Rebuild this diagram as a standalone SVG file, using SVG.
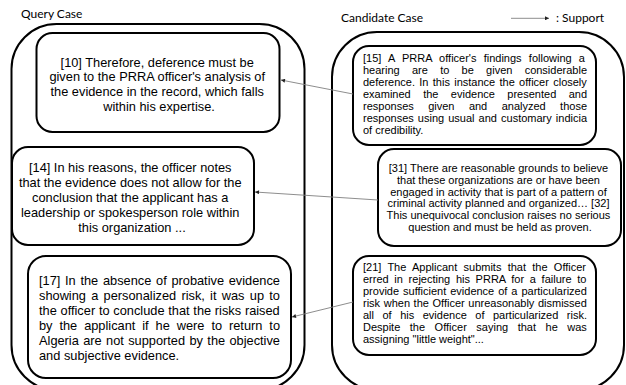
<svg xmlns="http://www.w3.org/2000/svg" width="626" height="385" viewBox="0 0 626 385">
<style>
.box{fill:#fff;stroke:#000;stroke-width:2}
.outer{fill:none;stroke:#000;stroke-width:2}
.q{font-family:"Liberation Sans",Arial,sans-serif;font-size:12.8px;fill:#000}
.c{font-family:"Liberation Sans",Arial,sans-serif;font-size:11px;fill:#000}
.lbl{font-family:Lato,"Liberation Sans",sans-serif;font-size:12px;fill:#000}
.mid{text-anchor:middle}
.conn{stroke:#808080;stroke-width:0.9;fill:none}
</style>
<defs>
<marker id="ah" viewBox="0 0 10 10" refX="10" refY="5" markerWidth="5" markerHeight="4" markerUnits="userSpaceOnUse" orient="auto">
<path d="M0,0 L10,5 L0,10 z" fill="#222"/>
</marker>
</defs>
<rect width="626" height="385" fill="#fff"/>
<g id="labels">
<text class="lbl" x="21" y="18">Query Case</text>
<text class="lbl" x="341" y="22">Candidate Case</text>
<text class="lbl" x="556" y="22">: Support</text>
</g>
<g id="query-case">
<rect class="outer" x="11.5" y="24" width="293" height="366" rx="45"/>
</g>
<g id="candidate-case">
<rect class="outer" x="332" y="32" width="292" height="358" rx="45"/>
</g>
<g id="q10">
<rect class="box" x="36.5" y="33" width="243" height="99" rx="16"/>
<text class="q mid" x="159">
<tspan x="159" y="66.7">[10] Therefore, deference must be</tspan>
<tspan x="159" y="81.3">given to the PRRA officer's analysis of</tspan>
<tspan x="159" y="95.9">the evidence in the record, which falls</tspan>
<tspan x="159" y="110.5">within his expertise.</tspan>
</text>
</g>
<g id="q14">
<rect class="box" x="12" y="147" width="242" height="98" rx="16"/>
<text class="q mid" x="132">
<tspan x="132" y="171.5">[14] In his reasons, the officer notes</tspan>
<tspan x="132" y="186.5">that the evidence does not allow for the</tspan>
<tspan x="132" y="201.5">conclusion that the applicant has a</tspan>
<tspan x="132" y="216.5">leadership or spokesperson role within</tspan>
<tspan x="132" y="231.5">this organization ...</tspan>
</text>
</g>
<g id="q17">
<rect class="box" x="28" y="256" width="263" height="122" rx="18"/>
<text class="q" x="39">
<tspan x="39" y="284.5" word-spacing="1.15">[17] In the absence of probative evidence</tspan>
<tspan x="39" y="299.6" word-spacing="1.70">showing a personalized risk, it was up to</tspan>
<tspan x="39" y="314.7" word-spacing="0.18">the officer to conclude that the risks raised</tspan>
<tspan x="39" y="329.8" word-spacing="3.36">by the applicant if he were to return to</tspan>
<tspan x="39" y="344.9" word-spacing="0.80">Algeria are not supported by the objective</tspan>
<tspan x="39" y="360">and subjective evidence.</tspan>
</text>
</g>
<g id="c15">
<rect class="box" x="353" y="46" width="243" height="99" rx="16"/>
<text class="c" x="363">
<tspan x="363" y="61.5" word-spacing="4.17">[15] A PRRA officer's findings following a</tspan>
<tspan x="363" y="73.5" word-spacing="9.21">hearing are to be given considerable</tspan>
<tspan x="363" y="85.5" word-spacing="1.26">deference. In this instance the officer closely</tspan>
<tspan x="363" y="97.5" word-spacing="9.38">examined the evidence presented and</tspan>
<tspan x="363" y="109.5" word-spacing="11.36">responses given and analyzed those</tspan>
<tspan x="363" y="121.5" word-spacing="1.03">responses using usual and customary indicia</tspan>
<tspan x="363" y="133.5">of credibility.</tspan>
</text>
</g>
<g id="c31">
<rect class="box" x="378" y="149" width="243" height="97" rx="16"/>
<text class="c mid" x="500">
<tspan x="500" y="172.3">[31] There are reasonable grounds to believe</tspan>
<tspan x="500" y="184">that these organizations are or have been</tspan>
<tspan x="500" y="195.7">engaged in activity that is part of a pattern of</tspan>
<tspan x="500" y="207.4">criminal activity planned and organized… [32]</tspan>
<tspan x="500" y="219.1">This unequivocal conclusion raises no serious</tspan>
<tspan x="500" y="230.8">question and must be held as proven.</tspan>
</text>
</g>
<g id="c21">
<rect class="box" x="353" y="256" width="243" height="99" rx="16"/>
<text class="c" x="363">
<tspan x="363" y="271" word-spacing="3.20">[21] The Applicant submits that the Officer</tspan>
<tspan x="363" y="283" word-spacing="2.63">erred in rejecting his PRRA for a failure to</tspan>
<tspan x="363" y="295" word-spacing="0.90">provide sufficient evidence of a particularized</tspan>
<tspan x="363" y="307" word-spacing="0.54">risk when the Officer unreasonably dismissed</tspan>
<tspan x="363" y="319" word-spacing="5.44">all of his evidence of particularized risk.</tspan>
<tspan x="363" y="331" word-spacing="6.46">Despite the Officer saying that he was</tspan>
<tspan x="363" y="343">assigning "little weight"...</tspan>
</text>
</g>
<g id="connectors">
<line class="conn" x1="353" y1="94" x2="281" y2="80" marker-end="url(#ah)"/>
<line class="conn" x1="378" y1="200" x2="255" y2="192" marker-end="url(#ah)"/>
<line class="conn" x1="353" y1="302" x2="292" y2="317" marker-end="url(#ah)"/>
<line class="conn" x1="511" y1="18.3" x2="549" y2="18.3" marker-end="url(#ah)"/>
</g>
</svg>
